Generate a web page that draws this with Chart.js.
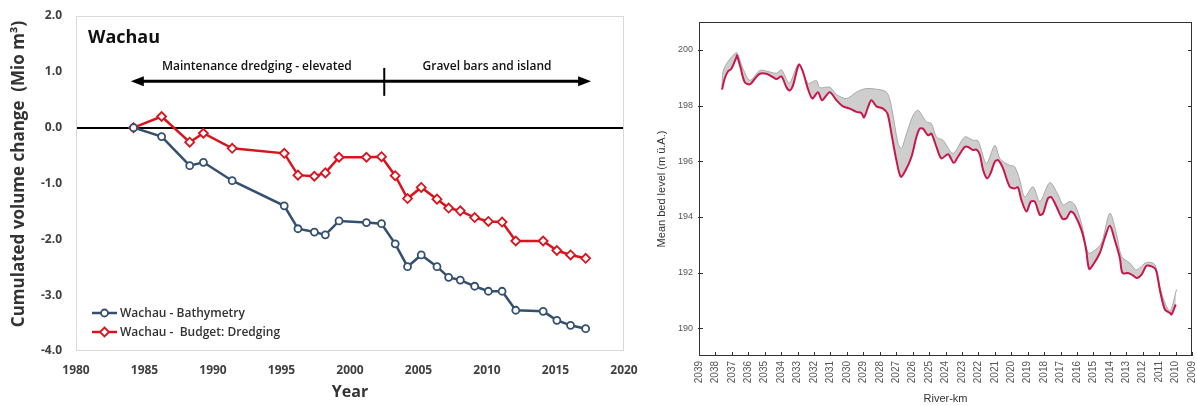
<!DOCTYPE html>
<html>
<head>
<meta charset="utf-8">
<script src="https://cdn.jsdelivr.net/npm/chart.js@4/dist/chart.umd.min.js"></script>
<style>
  html, body { margin: 0; padding: 0; background: #fff; }
  body { width: 1197px; height: 406px; position: relative; overflow: hidden; }
  #volumeChart { position: absolute; left: 0; top: 0; width: 640px; height: 406px; }
  #bedChart { position: absolute; left: 640px; top: 0; width: 557px; height: 406px; }
</style>
</head>
<body>
<canvas id="volumeChart" width="640" height="406"></canvas>
<canvas id="bedChart" width="557" height="406"></canvas>
<script>
// ---- Wachau: cumulated volume change (Mio m³) ----
const surveyYears = [1984.2, 1986.25, 1988.3, 1989.3, 1991.4, 1995.2, 1996.2, 1997.4, 1998.2, 1999.2,
  2001.2, 2002.3, 2003.3, 2004.2, 2005.2, 2006.35, 2007.2, 2008.05, 2009.1, 2010.1,
  2011.1, 2012.1, 2014.1, 2015.1, 2016.1, 2017.2];
const bathymetry = [0, -0.16, -0.68, -0.62, -0.95, -1.40, -1.81, -1.87, -1.92, -1.67,
  -1.70, -1.72, -2.08, -2.49, -2.28, -2.49, -2.68, -2.73, -2.84, -2.93,
  -2.93, -3.27, -3.29, -3.45, -3.54, -3.60];
const budgetDredging = [0, 0.20, -0.26, -0.10, -0.37, -0.46, -0.85, -0.87, -0.81, -0.53,
  -0.53, -0.52, -0.86, -1.27, -1.07, -1.28, -1.44, -1.49, -1.61, -1.68,
  -1.69, -2.03, -2.03, -2.20, -2.28, -2.34];
const yearTicks = [1980, 1985, 1990, 1995, 2000, 2005, 2010, 2015, 2020];
const volumeTicks = [-4, -3, -2, -1, 0, 1, 2];
const seriesNames = ['Wachau - Bathymetry', 'Wachau -  Budget: Dredging'];

// ---- Mean bed level along the river (m ü.A.) ----
const redKm = [2037.60, 2037.44, 2037.23, 2037.03, 2036.72, 2036.69, 2036.48, 2036.22, 2035.90, 2035.60,
  2035.30, 2034.90, 2034.50, 2034.29, 2033.98, 2033.68, 2033.48, 2033.28, 2033.07, 2032.91,
  2032.67, 2032.37, 2032.10, 2031.76, 2031.51, 2031.05, 2030.64, 2030.24, 2029.83, 2029.42,
  2029.12, 2028.96, 2028.71, 2028.51, 2028.20, 2027.80, 2027.53, 2027.29, 2026.99, 2026.72,
  2026.42, 2026.07, 2025.77, 2025.57, 2025.37, 2025.06, 2024.86, 2024.55, 2024.25, 2023.84,
  2023.50, 2023.24, 2022.83, 2022.63, 2022.32, 2022.12, 2021.92, 2021.71, 2021.47, 2021.26,
  2021.00, 2020.80, 2020.50, 2020.09, 2019.79, 2019.59, 2019.38, 2019.07, 2018.81, 2018.57,
  2018.26, 2018.06, 2017.76, 2017.55, 2017.25, 2016.88, 2016.64, 2016.38, 2016.13, 2015.73,
  2015.46, 2015.26, 2015.02, 2014.61, 2014.31, 2014.00, 2013.70, 2013.39, 2013.23, 2012.89,
  2012.58, 2012.34, 2012.07, 2011.77, 2011.46, 2011.20, 2010.96, 2010.65, 2010.35, 2010.25,
  2009.99];
const redLevel = [198.57, 198.96, 199.23, 199.32, 199.74, 199.80, 199.38, 198.84, 198.76, 198.96,
  199.14, 199.14, 199.02, 198.95, 199.04, 198.66, 198.54, 198.72, 199.20, 199.47,
  199.20, 198.60, 198.25, 198.48, 198.19, 198.48, 198.19, 197.97, 197.89, 197.77,
  197.73, 197.57, 197.95, 198.19, 197.97, 197.89, 197.71, 196.99, 196.04, 195.44,
  195.68, 196.16, 196.87, 197.17, 197.17, 196.93, 196.99, 196.51, 196.10, 196.25,
  195.94, 196.16, 196.51, 196.51, 196.40, 196.42, 196.25, 195.68, 195.38, 195.56,
  195.98, 196.04, 195.74, 195.08, 195.02, 195.06, 194.60, 194.19, 194.55, 194.55,
  194.07, 194.13, 194.67, 194.70, 194.37, 193.93, 193.95, 194.19, 194.07, 193.53,
  192.88, 192.13, 192.28, 192.70, 193.24, 193.68, 193.17, 192.52, 191.98, 191.98,
  191.89, 191.80, 191.92, 192.24, 192.22, 192.10, 191.39, 190.67, 190.55, 190.49,
  190.85];
const grayKm = [2037.60, 2037.54, 2037.33, 2036.83, 2036.69, 2036.32, 2035.90, 2035.30, 2034.80, 2034.29,
  2033.98, 2033.68, 2033.48, 2032.91, 2032.37, 2031.86, 2031.65, 2031.05, 2030.64, 2030.03,
  2029.42, 2028.91, 2028.41, 2027.60, 2027.29, 2026.89, 2026.68, 2026.42, 2025.97, 2025.67,
  2025.16, 2024.86, 2024.55, 2024.15, 2023.54, 2022.83, 2022.32, 2022.02, 2021.51, 2021.00,
  2020.70, 2020.40, 2020.10, 2019.79, 2019.48, 2019.18, 2018.67, 2018.26, 2017.65, 2017.15,
  2016.84, 2016.44, 2016.13, 2015.73, 2015.32, 2015.00, 2014.51, 2014.00, 2013.60, 2013.29,
  2012.79, 2012.38, 2011.77, 2011.26, 2010.86, 2010.35, 2009.94];
const grayLevel = [198.70, 199.20, 199.50, 199.86, 199.90, 199.32, 198.90, 199.26, 199.22, 199.16,
  199.28, 198.94, 198.80, 199.50, 198.80, 198.90, 198.64, 198.66, 198.40, 198.25,
  198.48, 198.60, 198.60, 198.48, 197.95, 196.64, 196.46, 196.90, 197.65, 197.83,
  197.41, 197.35, 196.87, 196.75, 196.28, 196.87, 196.75, 196.73, 195.92, 196.57,
  196.10, 195.95, 195.85, 195.80, 195.32, 194.72, 195.08, 194.55, 195.23, 194.79,
  194.43, 194.55, 194.43, 193.77, 192.70, 192.76, 193.06, 194.13, 193.40, 192.58,
  192.34, 192.10, 192.36, 192.28, 191.27, 190.62, 191.39];
const riverKmTicks = [2039, 2038, 2037, 2036, 2035, 2034, 2033, 2032, 2031, 2030, 2029, 2028, 2027, 2026,
  2025, 2024, 2023, 2022, 2021, 2020, 2019, 2018, 2017, 2016, 2015, 2014, 2013, 2012, 2011, 2010, 2009];
const bedLevelTicks = [190, 192, 194, 196, 198, 200];

const BLUE = '#34506f';
const RED = '#d8141f';
const CRIMSON = '#c8174a';
const SANS = '"Open Sans", "DejaVu Sans", sans-serif';
const ARIAL = '"Liberation Sans", Arial, sans-serif';

function fixedTicks(values) {
  return scale => { scale.ticks = values.map(v => ({ value: v })); };
}
// pin an axis box to a fixed thickness and drop the label overhang padding
function pinBox(prop, size) {
  return scale => {
    scale[prop] = size;
    scale.paddingLeft = 0; scale.paddingRight = 0;
    scale.paddingTop = 0; scale.paddingBottom = 0;
  };
}

// Title, axis caption, period arrows, plot frame and the inset legend of the volume chart
const volumeDecor = {
  id: 'volumeDecor',
  beforeDatasetsDraw(chart) {
    const { ctx, chartArea: a } = chart;
    ctx.save();
    ctx.strokeStyle = '#d9d9d9';
    ctx.lineWidth = 1;
    ctx.strokeRect(a.left + 0.5, a.top + 0.5, a.right - a.left - 1, a.bottom - a.top - 1);
    // vertical axis caption
    ctx.translate(19, a.top + 158);
    ctx.rotate(-Math.PI / 2);
    ctx.fillStyle = '#333';
    ctx.font = 'bold 17px ' + SANS;
    ctx.textAlign = 'center';
    ctx.textBaseline = 'middle';
    ctx.fillText('Cumulated volume change  (Mio m³)', 0, 0);
    ctx.restore();
  },
  afterDatasetsDraw(chart) {
    const { ctx, chartArea: a, scales: { x, y } } = chart;
    ctx.save();
    // panel title
    ctx.fillStyle = '#111';
    ctx.font = 'bold 18px ' + SANS;
    ctx.textBaseline = 'middle';
    ctx.textAlign = 'left';
    ctx.fillText('Wachau', a.left + 12, a.top + 22);

    // period arrows
    const yArrow = y.getPixelForValue(0.83);
    const xStart = x.getPixelForValue(1984.0);
    const xSplit = x.getPixelForValue(2002.5);
    const xEnd = x.getPixelForValue(2017.6);
    ctx.strokeStyle = '#000';
    ctx.fillStyle = '#000';
    ctx.lineWidth = 3;
    ctx.beginPath();
    ctx.moveTo(xStart + 10, yArrow);
    ctx.lineTo(xEnd - 10, yArrow);
    ctx.stroke();
    ctx.beginPath();
    ctx.moveTo(xStart, yArrow);
    ctx.lineTo(xStart + 13, yArrow - 5);
    ctx.lineTo(xStart + 13, yArrow + 5);
    ctx.closePath();
    ctx.fill();
    ctx.beginPath();
    ctx.moveTo(xEnd, yArrow);
    ctx.lineTo(xEnd - 13, yArrow - 5);
    ctx.lineTo(xEnd - 13, yArrow + 5);
    ctx.closePath();
    ctx.fill();
    ctx.lineWidth = 2;
    ctx.beginPath();
    ctx.moveTo(xSplit, y.getPixelForValue(1.07));
    ctx.lineTo(xSplit, y.getPixelForValue(0.57));
    ctx.stroke();

    ctx.font = '600 12px ' + SANS;
    ctx.textAlign = 'center';
    ctx.fillStyle = '#111';
    const yText = y.getPixelForValue(1.095);
    ctx.fillText('Maintenance dredging - elevated', x.getPixelForValue(1993.2), yText);
    ctx.fillText('Gravel bars and island', x.getPixelForValue(2010.0), yText);

    // legend
    chart.data.datasets.forEach((ds, i) => {
      const ly = a.bottom - 38 + i * 19;
      const lx = a.left + 16;
      ctx.strokeStyle = ds.borderColor;
      ctx.lineWidth = 2.5;
      ctx.beginPath();
      ctx.moveTo(lx, ly);
      ctx.lineTo(lx + 25, ly);
      ctx.stroke();
      ctx.fillStyle = '#fff';
      ctx.lineWidth = 1.8;
      ctx.beginPath();
      if (ds.pointStyle === 'rectRot') {
        const r = 4.5;
        ctx.moveTo(lx + 12.5, ly - r);
        ctx.lineTo(lx + 12.5 + r, ly);
        ctx.lineTo(lx + 12.5, ly + r);
        ctx.lineTo(lx + 12.5 - r, ly);
        ctx.closePath();
      } else {
        ctx.arc(lx + 12.5, ly, 3.5, 0, Math.PI * 2);
      }
      ctx.fill();
      ctx.stroke();
      ctx.fillStyle = '#333';
      ctx.font = '600 12px ' + SANS;
      ctx.textAlign = 'left';
      ctx.fillText(ds.label, lx + 28, ly + 1);
    });
    ctx.restore();
  }
};

new Chart(document.getElementById('volumeChart'), {
  type: 'line',
  data: {
    datasets: [
      {
        label: seriesNames[0],
        data: surveyYears.map((yr, i) => ({ x: yr, y: bathymetry[i] })),
        borderColor: BLUE, borderWidth: 2.5, tension: 0,
        pointStyle: 'circle', pointRadius: 3.5, pointBorderWidth: 1.8,
        pointBackgroundColor: '#fff', pointBorderColor: BLUE
      },
      {
        label: seriesNames[1],
        data: surveyYears.map((yr, i) => ({ x: yr, y: budgetDredging[i] })),
        borderColor: RED, borderWidth: 2.5, tension: 0,
        pointStyle: 'rectRot', pointRadius: 4.5, pointBorderWidth: 1.8,
        pointBackgroundColor: '#fff', pointBorderColor: RED
      }
    ]
  },
  options: {
    responsive: false,
    animation: false,
    events: [],
    layout: { padding: { top: 16, right: 16, left: 0, bottom: 0 } },
    plugins: { legend: { display: false }, tooltip: { enabled: false } },
    scales: {
      x: {
        type: 'linear', min: 1980, max: 2020,
        afterBuildTicks: fixedTicks(yearTicks),
        afterFit: pinBox('height', 55),
        grid: { display: false, drawTicks: false },
        border: { display: false },
        ticks: { color: '#404040', padding: 12, font: { family: SANS, weight: 'bold', size: 12 }, callback: v => String(v) },
        title: { display: true, text: 'Year', color: '#333', font: { family: SANS, weight: 'bold', size: 16 }, padding: { top: 0, bottom: 4 } }
      },
      y: {
        type: 'linear', min: -4, max: 2,
        afterBuildTicks: fixedTicks(volumeTicks),
        afterFit: pinBox('width', 76),
        grid: {
          color: c => (c.tick && c.tick.value === 0 ? '#000' : 'rgba(0,0,0,0)'),
          lineWidth: 2, drawTicks: false
        },
        border: { display: false },
        ticks: { color: '#404040', padding: 14, font: { family: SANS, weight: 'bold', size: 12 }, callback: v => v.toFixed(1) },
        title: { display: false }
      }
    }
  },
  plugins: [volumeDecor]
});

// Frame and inward tick marks of the bed level chart
const bedFrame = {
  id: 'bedFrame',
  afterDraw(chart) {
    const { ctx, chartArea: a, scales: { x, y } } = chart;
    ctx.save();
    ctx.strokeStyle = '#333';
    ctx.lineWidth = 1;
    ctx.strokeRect(Math.round(a.left) + 0.5, Math.round(a.top) + 0.5,
      Math.round(a.right - a.left) - 1, Math.round(a.bottom - a.top) - 1);
    ctx.beginPath();
    riverKmTicks.forEach(k => {
      const px = Math.round(x.getPixelForValue(k)) + 0.5;
      ctx.moveTo(px, a.bottom);
      ctx.lineTo(px, a.bottom - 4);
    });
    bedLevelTicks.forEach(v => {
      const py = Math.round(y.getPixelForValue(v)) + 0.5;
      ctx.moveTo(a.left - 1, py);
      ctx.lineTo(a.left + 4, py);
      ctx.moveTo(a.right - 4, py);
      ctx.lineTo(a.right, py);
    });
    ctx.stroke();
    ctx.restore();
  }
};

new Chart(document.getElementById('bedChart'), {
  type: 'line',
  data: {
    datasets: [
      {
        label: 'survey range',
        data: grayKm.map((k, i) => ({ x: k, y: grayLevel[i] })),
        borderColor: '#a8a8a8', borderWidth: 1, tension: 0.3,
        pointRadius: 0, fill: 1, backgroundColor: 'rgba(165,165,165,0.55)', order: 1
      },
      {
        label: 'latest survey',
        data: redKm.map((k, i) => ({ x: k, y: redLevel[i] })),
        borderColor: CRIMSON, borderWidth: 2, tension: 0.3,
        pointRadius: 0, fill: false, order: 0
      }
    ]
  },
  options: {
    responsive: false,
    animation: false,
    events: [],
    layout: { padding: { top: 22, right: 5, left: 0, bottom: 0 } },
    plugins: { legend: { display: false }, tooltip: { enabled: false } },
    scales: {
      x: {
        type: 'linear', min: 2009, max: 2039, reverse: true,
        afterBuildTicks: fixedTicks(riverKmTicks),
        afterFit: pinBox('height', 50),
        grid: { display: false, drawTicks: false },
        border: { display: false },
        ticks: { color: '#555', padding: 5, minRotation: 90, maxRotation: 90, autoSkip: false,
          font: { family: ARIAL, size: 10 }, callback: v => String(v) },
        title: { display: true, text: 'River-km', color: '#333', font: { family: ARIAL, size: 11 }, padding: { top: 0, bottom: 0 } }
      },
      y: {
        type: 'linear', min: 189, max: 201,
        afterBuildTicks: fixedTicks(bedLevelTicks),
        afterFit: pinBox('width', 59),
        grid: { display: false, drawTicks: false },
        border: { display: false },
        ticks: { color: '#555', padding: 6, font: { family: ARIAL, size: 9 }, callback: v => String(v) },
        title: { display: true, text: 'Mean bed level (m ü.A.)', color: '#333', font: { family: ARIAL, size: 11 }, padding: { top: 15, bottom: 0 } }
      }
    }
  },
  plugins: [bedFrame]
});
</script>
</body>
</html>
